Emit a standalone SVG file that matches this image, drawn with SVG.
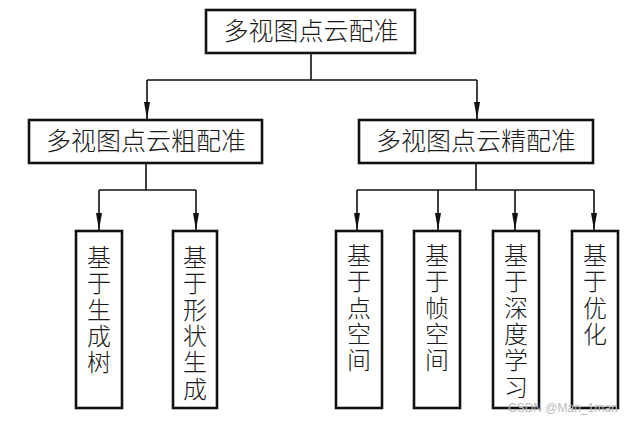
<svg xmlns="http://www.w3.org/2000/svg" width="642" height="423" viewBox="0 0 642 423">
<style>
.box{fill:#fff;stroke:#111;stroke-width:2.6}
.t{font-family:"Noto Sans CJK SC","Noto Sans",sans-serif;font-size:25px;font-weight:300;fill:#1a1a1a;text-anchor:middle}
.v{font-family:"Noto Sans CJK SC","Noto Sans",sans-serif;font-size:24px;font-weight:300;fill:#1a1a1a;writing-mode:vertical-rl;letter-spacing:2.3px}
.ln{fill:none;stroke:#111;stroke-width:1.6}
.wm{font-family:"Liberation Sans",sans-serif;font-size:12px;fill:#bbb}
</style>
<defs>
<marker id="ar" markerWidth="18" markerHeight="6" refX="17" refY="3" orient="auto" markerUnits="userSpaceOnUse" viewBox="0 0 18 6">
<path d="M0,0 L17,3 L0,6 Z" fill="#111"/>
</marker>
</defs>
<g id="connectors">
<path class="ln" d="M311,53 V80 M147,80 H477"/>
<path class="ln" d="M147,80 V119" marker-end="url(#ar)"/>
<path class="ln" d="M477,80 V119" marker-end="url(#ar)"/>
<path class="ln" d="M146,163 V190 M99,190 H196"/>
<path class="ln" d="M99,190 V230" marker-end="url(#ar)"/>
<path class="ln" d="M196,190 V230" marker-end="url(#ar)"/>
<path class="ln" d="M476,163 V190 M357,190 H594"/>
<path class="ln" d="M357,190 V230" marker-end="url(#ar)"/>
<path class="ln" d="M438,190 V230" marker-end="url(#ar)"/>
<path class="ln" d="M515,190 V230" marker-end="url(#ar)"/>
<path class="ln" d="M594,190 V230" marker-end="url(#ar)"/>
</g>
<g id="root"><rect class="box" x="206" y="10" width="209" height="43"/><text class="t" x="311" y="40">多视图点云配准</text></g>
<g id="coarse"><rect class="box" x="29" y="120" width="233" height="43"/><text class="t" x="146" y="150">多视图点云粗配准</text></g>
<g id="fine"><rect class="box" x="359" y="120" width="234" height="43"/><text class="t" x="476" y="150">多视图点云精配准</text></g>
<g id="leaf1"><rect class="box" x="76" y="231" width="46" height="177"/><text class="v" x="99" y="245">基于生成树</text></g>
<g id="leaf2"><rect class="box" x="173" y="231" width="44" height="177"/><text class="v" x="195" y="245">基于形状生成</text></g>
<g id="leaf3"><rect class="box" x="336" y="231" width="46" height="177"/><text class="v" x="359" y="243">基于点空间</text></g>
<g id="leaf4"><rect class="box" x="414" y="231" width="46" height="177"/><text class="v" x="437" y="243">基于帧空间</text></g>
<g id="leaf5"><rect class="box" x="493" y="231" width="46" height="177"/><text class="v" x="516" y="243">基于深度学习</text></g>
<g id="leaf6"><rect class="box" x="572" y="231" width="46" height="177"/><text class="v" x="595" y="243">基于优化</text></g>
<text class="wm" x="508" y="412">CSDN @Man_1man</text>
</svg>
